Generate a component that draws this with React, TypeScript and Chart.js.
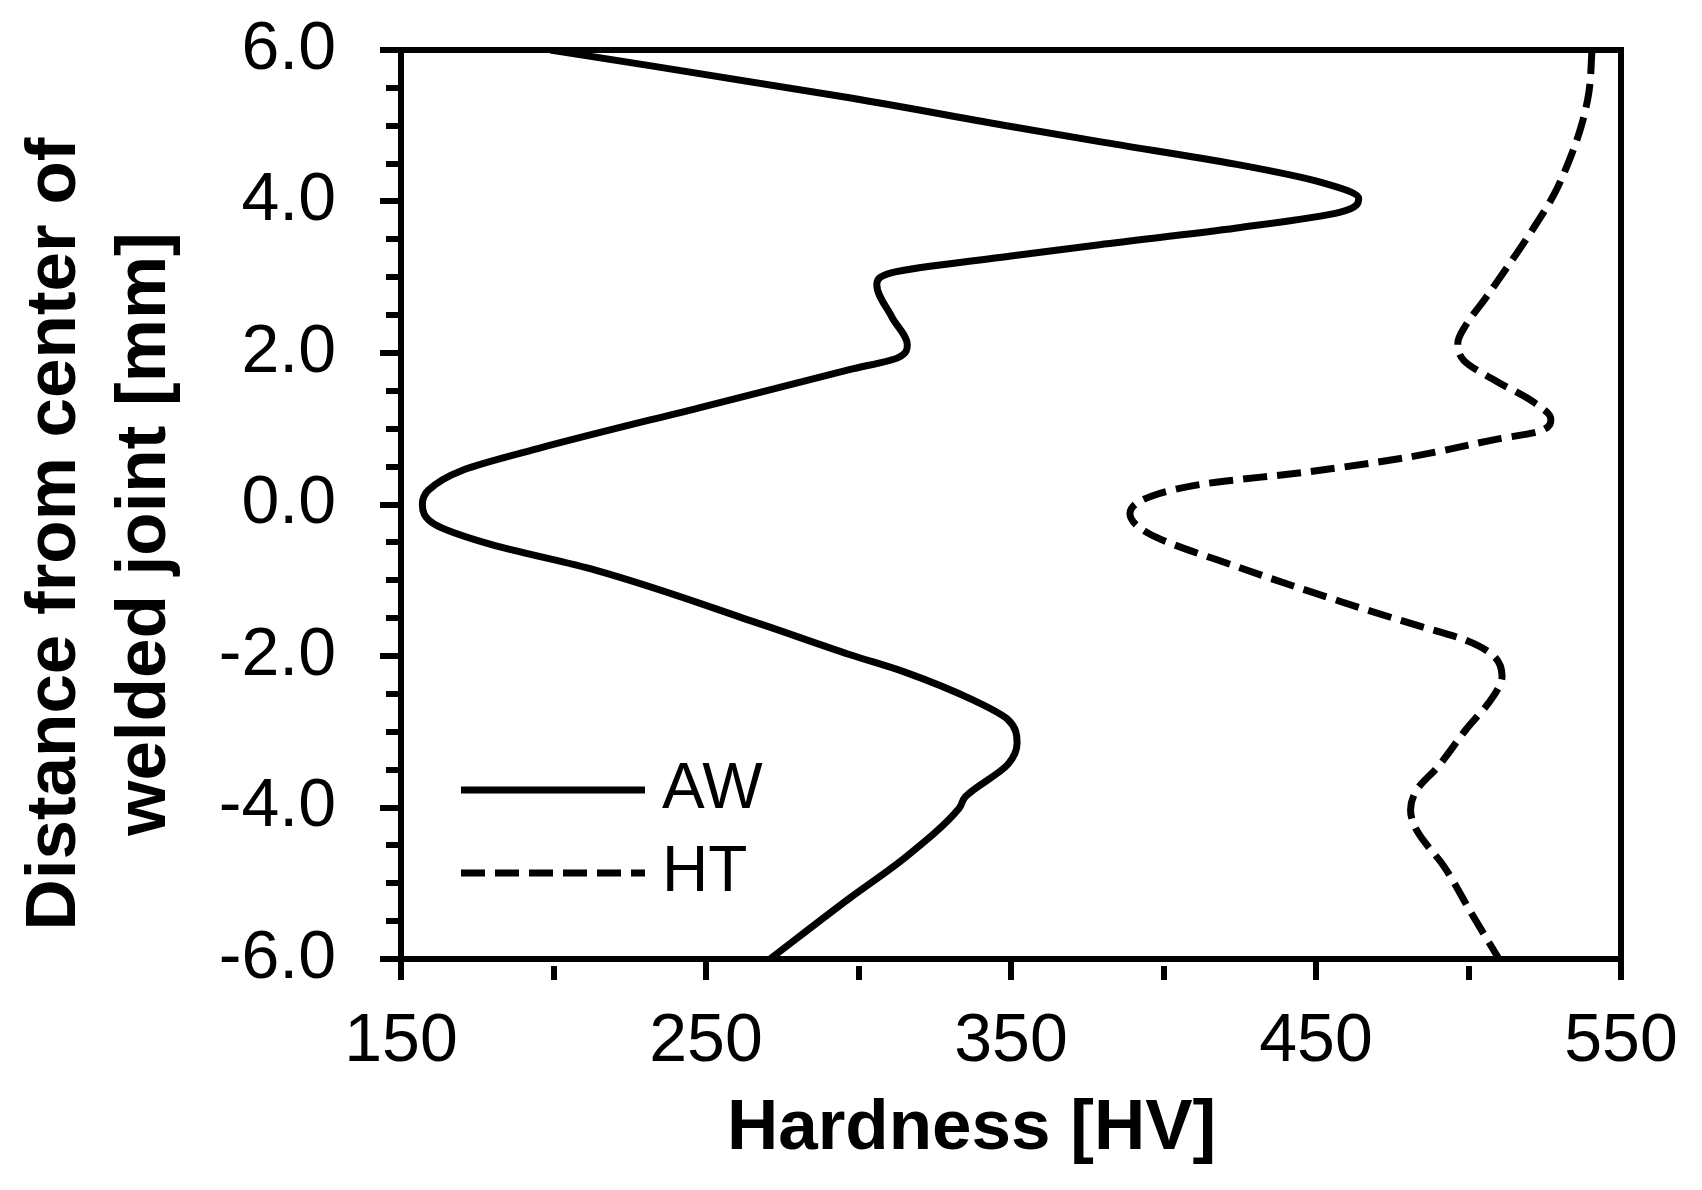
import { useEffect, useRef } from 'react';
import { Chart, registerables } from 'chart.js';
import type { Plugin } from 'chart.js';

Chart.register(...registerables);

// AW (as welded) profile
const awDistance = [
  6.0, 5.37, 4.99, 4.79, 4.49, 4.25, 4.04, 3.86, 3.65, 3.43, 3.28, 3.06, 2.9, 2.47,
  2.11, 1.94, 1.78, 1.3, 0.75, 0.45, 0.19, 0.0, -0.26, -0.51, -0.87, -1.58, -1.98, -2.21, -2.59,
  -2.84, -3.15, -3.43, -3.86, -4.01, -4.67, -5.2, -6.0,
];
const awHardness = [
  199, 297, 350, 379, 424, 452, 464, 458, 424, 379, 350, 311, 306, 311,
  316, 313, 297, 250, 196, 170, 159, 157, 161, 178, 214, 268, 297, 315, 338,
  349, 352, 349, 335, 333, 315, 297, 271,
];

// HT (heat treated) profile
const htDistance = [
  6.0, 5.45, 5.0, 4.54, 4.09, 3.63, 3.18, 2.72, 2.36, 2.13, 1.9, 1.63, 1.36, 1.13, 0.97, 0.86,
  0.63, 0.43, 0.27, 0.11, -0.12, -0.38, -0.82, -1.28, -1.57, -1.79, -1.99, -2.27, -2.54, -2.98,
  -3.46, -3.77, -4.03, -4.3, -4.78, -5.4, -6.0,
];
const htHardness = [
  540.5, 539.5, 537, 533, 528, 521, 513.5, 505.5, 499, 496.5, 498.5, 509, 521, 527, 523.5, 509,
  481, 447, 413, 396, 389, 395, 424, 458, 481, 499, 508, 511, 508, 499,
  490, 483, 481, 483, 492, 501, 510,
];

const xLabelValues = [150, 250, 350, 450, 550];
const yLabelValues = [-6, -4, -2, 0, 2, 4, 6];

const fontFamily = '"Liberation Sans", Arial, Helvetica, sans-serif';
const ink = '#000000';

const toPoints = (xs: number[], ys: number[]) => xs.map((x, i) => ({ x, y: ys[i] }));

// unlabelled ticks are drawn shorter: blank out their outer end
const minorDash = (labels: number[], blank: number) => (ctx: any) =>
  ctx.tick && labels.includes(Number(ctx.tick.value)) ? [] : [0, blank, 100, 0];

// legend sits inside the plot, bottom-left
const legendRows = [169, 86];
const insideLegend: Plugin<'scatter'> = {
  id: 'insideLegend',
  afterDatasetsDraw(chart) {
    const { ctx, chartArea } = chart;
    ctx.save();
    chart.data.datasets.forEach((ds: any, i) => {
      const y = chartArea.bottom - legendRows[i];
      const x0 = chartArea.left + 60;
      ctx.beginPath();
      ctx.lineWidth = ds.borderWidth;
      ctx.strokeStyle = ds.borderColor;
      ctx.setLineDash(ds.borderDash ?? []);
      ctx.moveTo(x0, y);
      ctx.lineTo(x0 + 184, y);
      ctx.stroke();
      ctx.setLineDash([]);
      ctx.font = `64px ${fontFamily}`;
      ctx.fillStyle = ink;
      ctx.textAlign = 'left';
      ctx.textBaseline = 'middle';
      ctx.fillText(ds.label, x0 + 201, y);
    });
    ctx.restore();
  },
};

export default function App(): JSX.Element {
  const canvasRef = useRef<HTMLCanvasElement | null>(null);

  useEffect(() => {
    document.body.style.margin = '0';
    document.body.style.overflow = 'hidden';
    if (!canvasRef.current) return;

    const tickFont = { family: fontFamily, size: 68 };
    const titleFont = { family: fontFamily, size: 71, weight: 'bold' as const };
    const frame = { display: true, color: ink, width: 6 };

    const chart = new Chart(canvasRef.current, {
      type: 'scatter',
      data: {
        datasets: [
          {
            label: 'AW',
            data: toPoints(awHardness, awDistance),
            indexAxis: 'y',
            showLine: true,
            borderColor: ink,
            borderWidth: 7,
            pointRadius: 0,
            cubicInterpolationMode: 'monotone',
          },
          {
            label: 'HT',
            data: toPoints(htHardness, htDistance),
            indexAxis: 'y',
            showLine: true,
            borderColor: ink,
            borderWidth: 7,
            borderDash: [24, 10],
            pointRadius: 0,
            cubicInterpolationMode: 'monotone',
          },
        ],
      },
      options: {
        responsive: false,
        animation: false,
        layout: { padding: { top: 50, right: 81, left: 0, bottom: 0 } },
        plugins: {
          legend: { display: false },
          tooltip: { enabled: false },
        },
        scales: {
          x: {
            type: 'linear',
            position: 'bottom',
            min: 150,
            max: 550,
            afterFit: (scale) => {
              scale.height = 231;
            },
            ticks: {
              stepSize: 50,
              autoSkip: false,
              maxRotation: 0,
              padding: 21,
              color: ink,
              font: tickFont,
              callback: (value) => (xLabelValues.includes(Number(value)) ? String(value) : ''),
            },
            grid: {
              drawOnChartArea: false,
              drawTicks: true,
              tickLength: 21,
              tickWidth: 6,
              tickColor: ink,
              lineWidth: 6,
              tickBorderDash: minorDash(xLabelValues, 4),
            },
            border: frame,
            title: {
              display: true,
              text: 'Hardness [HV]    ',
              color: ink,
              font: titleFont,
              padding: { top: 0, bottom: 18 },
            },
          },
          y: {
            type: 'linear',
            position: 'left',
            min: -6,
            max: 6,
            afterFit: (scale) => {
              scale.width = 401;
              scale.paddingTop = 0;
              scale.paddingBottom = 0;
            },
            ticks: {
              stepSize: 0.5,
              autoSkip: false,
              padding: 44,
              color: ink,
              font: tickFont,
              callback: (value) =>
                yLabelValues.includes(Number(value)) ? Number(value).toFixed(1) : '',
            },
            grid: {
              drawOnChartArea: false,
              drawTicks: true,
              tickLength: 21,
              tickWidth: 6,
              tickColor: ink,
              lineWidth: 6,
              tickBorderDash: minorDash(yLabelValues, 6),
            },
            border: frame,
            title: {
              display: true,
              text: ['Distance from center of   ', 'welded joint [mm]   '],
              color: ink,
              font: { ...titleFont, lineHeight: 1.27 },
              padding: { top: 10, bottom: 0 },
            },
          },
          xTop: {
            type: 'linear',
            position: 'top',
            min: 150,
            max: 550,
            afterFit: (scale) => {
              scale.height = 0;
            },
            ticks: { display: false },
            grid: { drawOnChartArea: false, drawTicks: false, lineWidth: 6 },
            border: frame,
          },
          yRight: {
            type: 'linear',
            position: 'right',
            min: -6,
            max: 6,
            afterFit: (scale) => {
              scale.width = 0;
            },
            ticks: { display: false },
            grid: { drawOnChartArea: false, drawTicks: false, lineWidth: 6 },
            border: frame,
          },
        },
      },
      plugins: [insideLegend],
    });

    return () => {
      chart.destroy();
    };
  }, []);

  return (
    <div style={{ width: 1702, height: 1190, background: '#ffffff' }}>
      <canvas ref={canvasRef} width={1702} height={1190} />
    </div>
  );
}
